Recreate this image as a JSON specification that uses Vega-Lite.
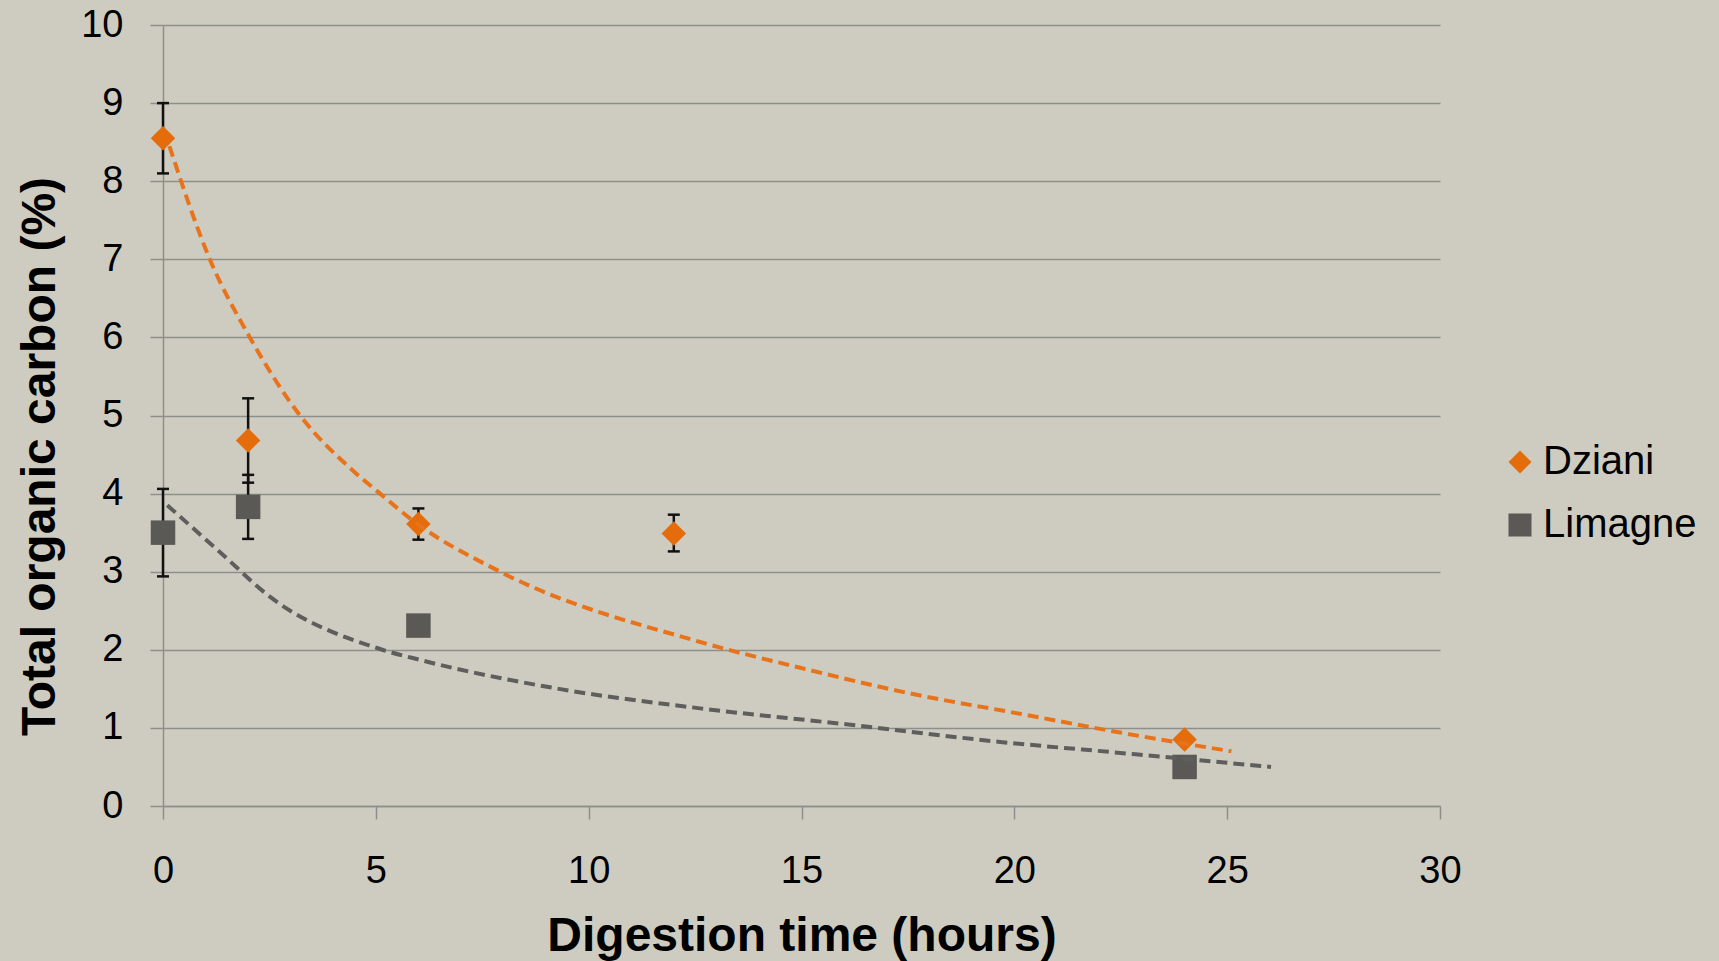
{
  "$schema": "https://vega.github.io/schema/vega-lite/v6.json",
  "width": 1277,
  "height": 781,
  "autosize": {"type": "none"},
  "padding": {"left": 163, "top": 25, "right": 279, "bottom": 155},
  "background": "#CECCC0",
  "config": {
    "view": {"stroke": null},
    "font": "Liberation Sans",
    "axisX": {
      "grid": false,
      "domainColor": "#8E8E8C",
      "domainWidth": 1.5,
      "tickColor": "#8E8E8C",
      "tickWidth": 1.5,
      "tickSize": 13,
      "labelFont": "Liberation Sans",
      "labelFontSize": 38,
      "labelColor": "#000000",
      "labelPadding": 33,
      "labelFlush": false,
      "titleFont": "Liberation Sans",
      "titleFontSize": 48,
      "titleFontWeight": "bold",
      "titleColor": "#000000",
      "titleBaseline": "alphabetic",
      "titleY": 144
    },
    "axisY": {
      "grid": true,
      "gridColor": "#8E8E8C",
      "gridWidth": 1.5,
      "domainColor": "#8E8E8C",
      "domainWidth": 1.5,
      "tickColor": "#8E8E8C",
      "tickWidth": 1.5,
      "tickSize": 13,
      "labelFont": "Liberation Sans",
      "labelFontSize": 38,
      "labelColor": "#000000",
      "labelPadding": 27,
      "labelFlush": false,
      "titleFont": "Liberation Sans",
      "titleFontSize": 48,
      "titleFontWeight": "bold",
      "titleColor": "#000000",
      "titleAngle": -90,
      "titleAlign": "center",
      "titleBaseline": "alphabetic",
      "titleX": -109,
      "titleY": 431
    }
  },
  "datasets": {
    "points": [
      {"series": "Dziani", "time": 0, "toc": 8.55},
      {"series": "Dziani", "time": 2, "toc": 4.68},
      {"series": "Dziani", "time": 6, "toc": 3.61},
      {"series": "Dziani", "time": 12, "toc": 3.49},
      {"series": "Dziani", "time": 24, "toc": 0.85},
      {"series": "Limagne", "time": 0, "toc": 3.5},
      {"series": "Limagne", "time": 2, "toc": 3.83},
      {"series": "Limagne", "time": 6, "toc": 2.31},
      {"series": "Limagne", "time": 24, "toc": 0.5}
    ],
    "errors": [
      {"series": "Dziani", "time": 0, "lo": 8.1, "hi": 9.0},
      {"series": "Dziani", "time": 2, "lo": 4.14, "hi": 5.22},
      {"series": "Dziani", "time": 6, "lo": 3.41, "hi": 3.81},
      {"series": "Dziani", "time": 12, "lo": 3.26, "hi": 3.73},
      {"series": "Limagne", "time": 0, "lo": 2.94, "hi": 4.06},
      {"series": "Limagne", "time": 2, "lo": 3.42, "hi": 4.24}
    ],
    "trend": [
      {"series": "Dziani", "time": 0.15, "toc": 8.45},
      {"series": "Dziani", "time": 1.1, "toc": 7.0},
      {"series": "Dziani", "time": 2.04, "toc": 6.0},
      {"series": "Dziani", "time": 3.22, "toc": 5.0},
      {"series": "Dziani", "time": 4.47, "toc": 4.29},
      {"series": "Dziani", "time": 5.1, "toc": 4.0},
      {"series": "Dziani", "time": 5.88, "toc": 3.65},
      {"series": "Dziani", "time": 7.92, "toc": 3.0},
      {"series": "Dziani", "time": 12.62, "toc": 2.1},
      {"series": "Dziani", "time": 14.97, "toc": 1.77},
      {"series": "Dziani", "time": 17.56, "toc": 1.44},
      {"series": "Dziani", "time": 20.14, "toc": 1.18},
      {"series": "Dziani", "time": 22.49, "toc": 0.94},
      {"series": "Dziani", "time": 25.1, "toc": 0.7},
      {"series": "Limagne", "time": 0.1, "toc": 3.85},
      {"series": "Limagne", "time": 1.34, "toc": 3.25},
      {"series": "Limagne", "time": 2.51, "toc": 2.68},
      {"series": "Limagne", "time": 5.1, "toc": 2.01},
      {"series": "Limagne", "time": 6.04, "toc": 1.87},
      {"series": "Limagne", "time": 9.3, "toc": 1.5},
      {"series": "Limagne", "time": 12.62, "toc": 1.25},
      {"series": "Limagne", "time": 16.15, "toc": 1.04},
      {"series": "Limagne", "time": 19.67, "toc": 0.82},
      {"series": "Limagne", "time": 22.49, "toc": 0.68},
      {"series": "Limagne", "time": 26.03, "toc": 0.5}
    ]
  },
  "layer": [
    {
      "data": {"name": "errors"},
      "mark": {"type": "rule", "color": "#111111", "strokeWidth": 2.5},
      "encoding": {
        "x": {"field": "time", "type": "quantitative", "scale": {"domain": [0, 30], "nice": false}, "title": "Digestion time (hours)", "axis": {"values": [0, 5, 10, 15, 20, 25, 30]}},
        "y": {"field": "lo", "type": "quantitative", "scale": {"domain": [0, 10], "nice": false}, "title": "Total organic carbon (%)", "axis": {"values": [0, 1, 2, 3, 4, 5, 6, 7, 8, 9, 10]}},
        "y2": {"field": "hi"}
      }
    },
    {
      "data": {"name": "errors"},
      "mark": {"type": "tick", "orient": "horizontal", "color": "#111111", "size": 12, "thickness": 2.5, "opacity": 1},
      "encoding": {
        "x": {"field": "time", "type": "quantitative", "scale": {"domain": [0, 30], "nice": false}, "title": "Digestion time (hours)", "axis": {"values": [0, 5, 10, 15, 20, 25, 30]}},
        "y": {"field": "lo", "type": "quantitative", "scale": {"domain": [0, 10], "nice": false}, "title": "Total organic carbon (%)", "axis": {"values": [0, 1, 2, 3, 4, 5, 6, 7, 8, 9, 10]}}
      }
    },
    {
      "data": {"name": "errors"},
      "mark": {"type": "tick", "orient": "horizontal", "color": "#111111", "size": 12, "thickness": 2.5, "opacity": 1},
      "encoding": {
        "x": {"field": "time", "type": "quantitative", "scale": {"domain": [0, 30], "nice": false}, "title": "Digestion time (hours)", "axis": {"values": [0, 5, 10, 15, 20, 25, 30]}},
        "y": {"field": "hi", "type": "quantitative", "scale": {"domain": [0, 10], "nice": false}, "title": "Total organic carbon (%)", "axis": {"values": [0, 1, 2, 3, 4, 5, 6, 7, 8, 9, 10]}}
      }
    },
    {
      "data": {"name": "points"},
      "mark": {"type": "point", "filled": true, "size": 600, "opacity": 1, "strokeWidth": 0},
      "encoding": {
        "x": {"field": "time", "type": "quantitative", "scale": {"domain": [0, 30], "nice": false}, "title": "Digestion time (hours)", "axis": {"values": [0, 5, 10, 15, 20, 25, 30]}},
        "y": {"field": "toc", "type": "quantitative", "scale": {"domain": [0, 10], "nice": false}, "title": "Total organic carbon (%)", "axis": {"values": [0, 1, 2, 3, 4, 5, 6, 7, 8, 9, 10]}},
        "color": {
          "field": "series", "type": "nominal",
          "scale": {"domain": ["Dziani", "Limagne"], "range": ["#E46C0A", "#5A5955"]},
          "legend": {"orient": "none", "legendX": 1337, "legendY": 417, "title": null, "symbolSize": 529, "symbolStrokeWidth": 0, "labelFontSize": 40, "labelFont": "Liberation Sans", "labelColor": "#000000", "labelOffset": 3, "rowPadding": 23, "padding": 0}
        },
        "shape": {
          "field": "series", "type": "nominal",
          "scale": {"domain": ["Dziani", "Limagne"], "range": ["diamond", "square"]},
          "legend": {"orient": "none", "legendX": 1337, "legendY": 417, "title": null, "symbolSize": 529, "symbolStrokeWidth": 0, "labelFontSize": 40, "labelFont": "Liberation Sans", "labelColor": "#000000", "labelOffset": 3, "rowPadding": 23, "padding": 0}
        }
      }
    },
    {
      "data": {"name": "trend"},
      "mark": {"type": "line", "strokeDash": [11, 6], "strokeWidth": 4, "interpolate": "monotone"},
      "encoding": {
        "x": {"field": "time", "type": "quantitative", "scale": {"domain": [0, 30], "nice": false}, "title": "Digestion time (hours)", "axis": {"values": [0, 5, 10, 15, 20, 25, 30]}},
        "y": {"field": "toc", "type": "quantitative", "scale": {"domain": [0, 10], "nice": false}, "title": "Total organic carbon (%)", "axis": {"values": [0, 1, 2, 3, 4, 5, 6, 7, 8, 9, 10]}},
        "stroke": {
          "field": "series", "type": "nominal",
          "scale": {"domain": ["Dziani", "Limagne"], "range": ["#E8731A", "#5E5E5C"]},
          "legend": null
        }
      }
    }
  ]
}
